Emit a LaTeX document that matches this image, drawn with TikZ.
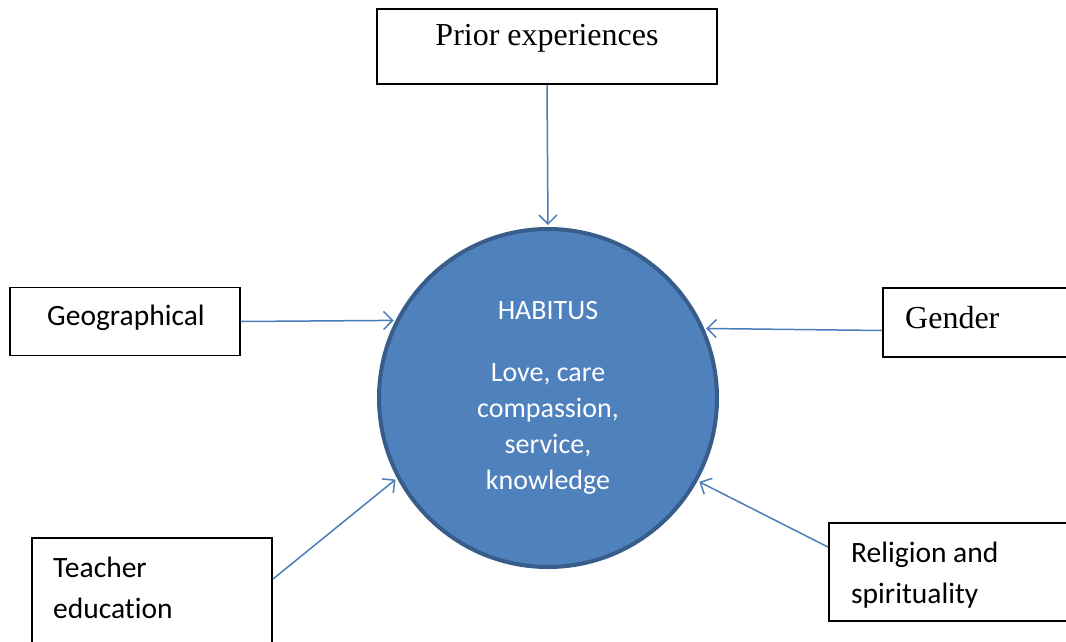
\documentclass[tikz,border=0pt]{standalone}
\usepackage{fontspec}
\setmainfont{Liberation Serif}
\newfontfamily\calib[Ligatures=NoCommon]{Carlito}
\usetikzlibrary{arrows.meta,calc}
\definecolor{circfill}{HTML}{4F81BD}
\definecolor{circline}{HTML}{385D8A}
\definecolor{arrowcol}{HTML}{4A7EBB}
\begin{document}
\begin{tikzpicture}[x=1pt,y=-1pt,
  boxnode/.style={draw=black,line width=1.8pt,rectangle,inner sep=0pt},
  serifbox/.style={font=\fontsize{32}{38}\selectfont},
  sansbox/.style={font=\calib\fontsize{29.5}{40.5}\selectfont,align=left,inner sep=0pt},
  conn/.style={draw=arrowcol,line width=1.5pt,-{Straight Barb[length=9pt,width=18pt,line width=1.5pt]},shorten >=2pt},
  habit/.style={circle,fill=circfill,draw=circline,line width=4pt,minimum size=338pt,inner sep=0pt}]
\path[use as bounding box,clip] (0,0) rectangle (1066,641);
\fill[white] (0,0) rectangle (1066,641);
% circle
\node[habit] (habitus) at (548,398) {};
\node[font=\calib\fontsize{28}{36}\selectfont,text=white,anchor=center] (habtitle) at (548,311) {HABITUS};
\node[font=\calib\fontsize{28}{36}\selectfont,text=white,align=center,anchor=north] (habtext) at (548,360) {Love, care\\compassion,\\service,\\knowledge};
% boxes
\node[boxnode,minimum width=340pt,minimum height=75pt] (prior) at (547,46.5) {};
\node[serifbox] (priort) at (547,38) {Prior experiences};
\node[boxnode,minimum width=230pt,minimum height=68pt] (geo) at (125,321.5) {};
\node[sansbox,anchor=west] (geot) at (47,318) {Geographical};
\node[boxnode,minimum width=240pt,minimum height=69pt] (gender) at (1003,322.5) {};
\node[serifbox,anchor=west,inner sep=0pt] (gendert) at (905,318) {Gender};
\node[boxnode,minimum width=240pt,minimum height=130pt] (teacher) at (152,603) {};
\node[sansbox,anchor=north west] (teachert) at (53,557) {Teacher\\education};
\node[boxnode,minimum width=280pt,minimum height=98pt] (relig) at (969,572) {};
\node[sansbox,anchor=north west] (religt) at (851,542) {Religion and\\spirituality};
% connectors
\draw[conn] (prior.south) -- (habitus.north);
\draw[conn] (geo.east) -- (habitus.153);
\draw[conn] ([yshift=-8pt]gender.west) -- (habitus.24);
\draw[conn] ([yshift=-42pt]teacher.north east) -- (habitus.208);
\draw[conn] ([yshift=-25pt]relig.north west) -- (habitus.331);
\end{tikzpicture}
\end{document}
